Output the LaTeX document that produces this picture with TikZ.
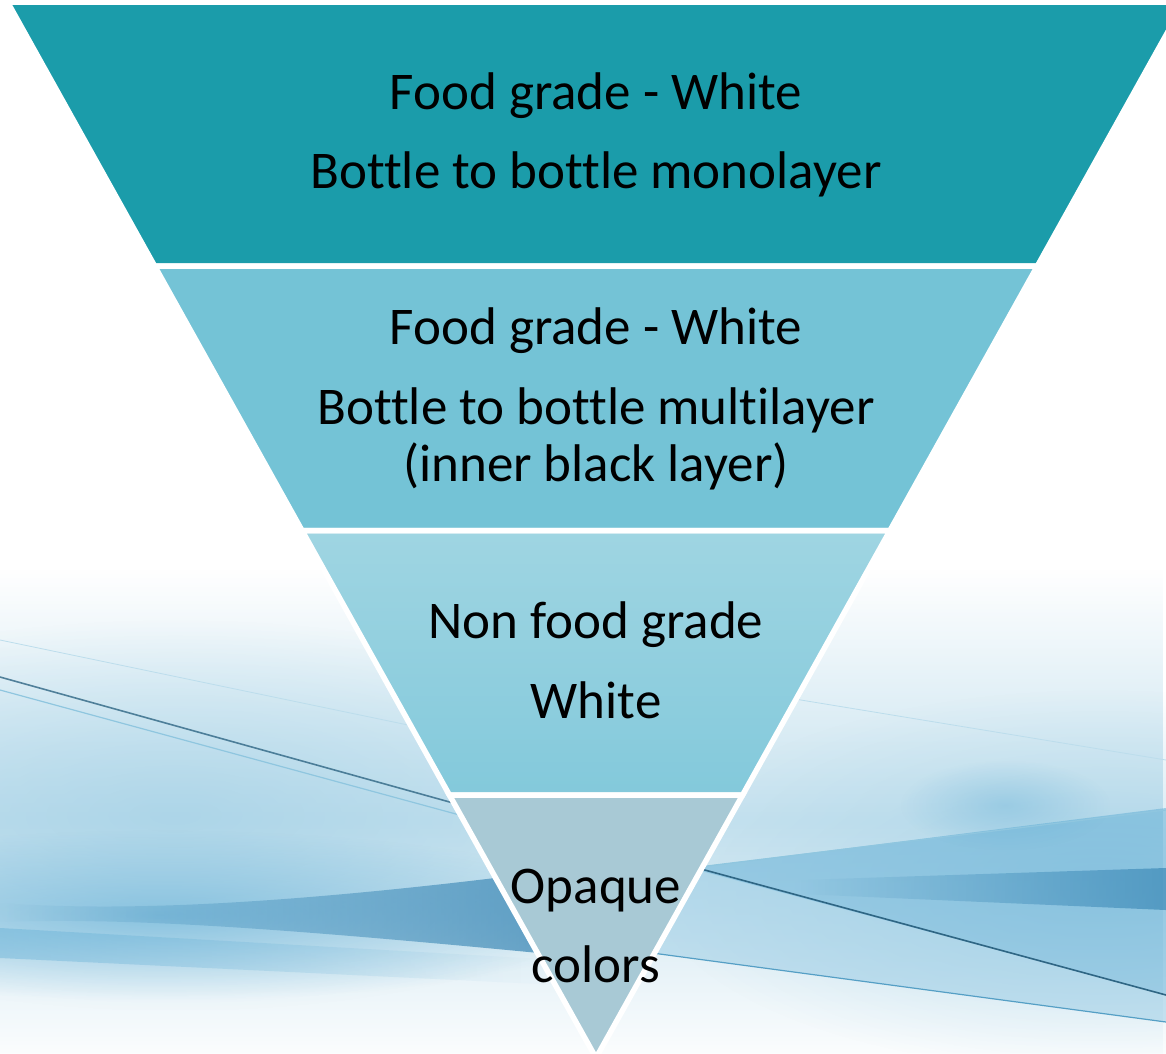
\documentclass[tikz,border=0pt]{standalone}
\usepackage{fontspec}
\setmainfont{Carlito}[Ligatures={NoCommon}]
\usetikzlibrary{fadings}
\definecolor{segA}{HTML}{1B9CAA}
\definecolor{segB}{HTML}{74C3D6}
\definecolor{segCtop}{HTML}{9FD5E2}
\definecolor{segCbot}{HTML}{83C9DB}
\definecolor{segD}{HTML}{A8C9D5}
\definecolor{haze}{HTML}{C6E2EF}
\definecolor{swoosh}{HTML}{5EADD5}
\definecolor{deep}{HTML}{2E7FB0}
\definecolor{darkline}{HTML}{2F6684}
\definecolor{paleline}{HTML}{8FC6DF}
\tikzfading[name=softblob, inner color=transparent!0, outer color=transparent!100]
\tikzfading[name=fadeleft, left color=transparent!100, right color=transparent!0]
\tikzfading[name=faderight, left color=transparent!0, right color=transparent!100]
\tikzfading[name=fadeupdown, top color=transparent!100, bottom color=transparent!100, middle color=transparent!0]
\begin{document}
\begin{tikzpicture}[x=1pt,y=-1pt,
  seg/.style={draw=white, line width=5.5pt, line join=miter},
  lbl/.style={anchor=base, font=\fontsize{53}{64}\selectfont, text=black, inner sep=0pt}]
\useasboundingbox (0,0) rectangle (1166,1053);
\fill[white] (0,0) rectangle (1166,1053);
\begin{scope}
\clip (0,0) rectangle (1166,1053);
% general haze
\fill[haze, path fading=fadeupdown] (0,570) rectangle (1166,1070);
\fill[haze!60!swoosh, opacity=0.6, path fading=softblob] (-350,620) rectangle (700,1010);
\fill[haze!60!swoosh, opacity=0.55, path fading=softblob] (650,690) rectangle (1550,1070);
% left swoosh
\fill[swoosh, opacity=0.6, path fading=softblob] (-300,830) rectangle (620,1000);
\fill[deep, opacity=0.7, path fading=fadeleft]
  (0,903) .. controls (100,910) and (250,910) .. (560,870) -- (560,955)
  .. controls (250,925) and (120,918) .. (0,922) -- cycle;
\fill[swoosh, opacity=0.4, path fading=faderight] (0,928) -- (560,960) -- (560,985) -- (0,958) -- cycle;
\draw[darkline, line width=1.6pt, opacity=0.8] (0,677) -- (500,816);
\draw[paleline, line width=1.2pt] (0,690) -- (500,826);
\draw[paleline!60, line width=0.8pt] (0,640) -- (480,740);
% right swoosh
\fill[swoosh, opacity=0.5] (690,868) -- (1166,808) -- (1166,995) -- cycle;
\fill[deep, opacity=0.6, path fading=fadeleft] (800,880) -- (1166,868) -- (1166,910) -- (800,894) -- cycle;
\fill[swoosh!70!white, opacity=0.45] (690,866) -- (1166,995) -- (1166,1022) -- (630,950) -- cycle;
\fill[swoosh, opacity=0.35, path fading=softblob] (900,760) rectangle (1110,850);
\draw[paleline, line width=1.2pt] (690,868) -- (1166,810);
\draw[darkline, line width=1.6pt] (690,866) -- (1166,995);
\draw[swoosh!80!darkline, line width=1.2pt] (630,950) -- (1166,1022);
\draw[paleline!60, line width=0.8pt] (740,690) -- (1166,760);
\end{scope}
% funnel
\fill[segA] (7.5,2) -- (1184.5,2) -- (1037.4,266) -- (154.6,266) -- cycle;
\fill[segB] (154.6,266) -- (1037.4,266) -- (890.0,530.5) -- (302.0,530.5) -- cycle;
\shade[top color=segCtop, bottom color=segCbot] (302.0,530.5) -- (890.0,530.5) -- (742.6,795) -- (449.4,795) -- cycle;
\fill[segD] (449.4,795) -- (742.6,795) -- (596,1058) -- cycle;
\draw[seg] (7.5,2) -- (1184.5,2) -- (1037.4,266) -- (154.6,266) -- cycle;
\draw[seg] (154.6,266) -- (1037.4,266) -- (890.0,530.5) -- (302.0,530.5) -- cycle;
\draw[seg] (302.0,530.5) -- (890.0,530.5) -- (742.6,795) -- (449.4,795) -- cycle;
\draw[seg] (449.4,795) -- (742.6,795) -- (596,1058) -- cycle;
% labels
\node[lbl] (t1a) at (596,109) {Food grade - White};
\node[lbl] (t1b) at (596,188) {Bottle to bottle monolayer};
\node[lbl] (t2a) at (596,344) {Food grade - White};
\node[lbl] (t2b) at (596,424) {Bottle to bottle multilayer};
\node[lbl] (t2c) at (596,481) {(inner black layer)};
\node[lbl] (t3a) at (596,638) {Non food grade};
\node[lbl] (t3b) at (596,718) {White};
\node[lbl] (t4a) at (596,903) {Opaque};
\node[lbl] (t4b) at (596,982) {colors};
\end{tikzpicture}
\end{document}
